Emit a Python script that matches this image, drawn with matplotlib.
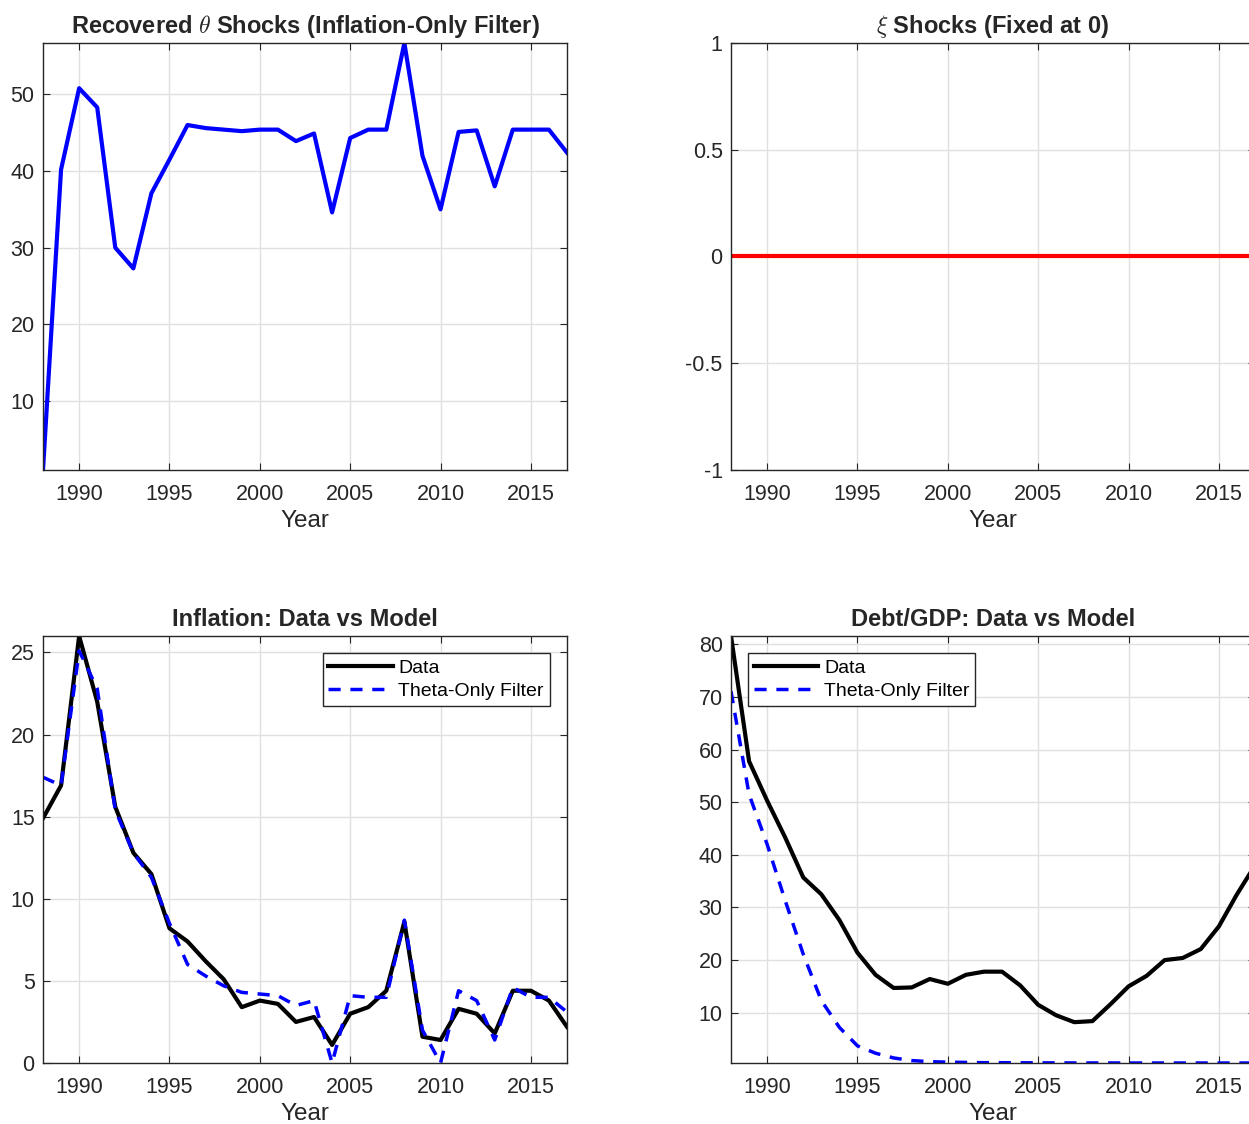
import numpy as np
import matplotlib
matplotlib.use("Agg")
import matplotlib.pyplot as plt

plt.rcParams['font.family'] = ['Liberation Sans', 'DejaVu Sans']
plt.rcParams['mathtext.fontset'] = 'cm'

# Years of the sample
years = np.arange(1988, 2018)

# Recovered theta shocks
theta = [1.0, 40.2, 50.8, 48.3, 30.0, 27.3, 37.1, 41.5, 46.0, 45.6,
         45.4, 45.2, 45.4, 45.4, 43.9, 44.9, 34.6, 44.3, 45.4, 45.4,
         56.7, 42.0, 35.0, 45.1, 45.3, 38.0, 45.4, 45.4, 45.4, 42.4]

# xi shocks (fixed at 0)
xi = [0.0] * 30

# Inflation: data vs model
infl_data = [14.9, 16.9, 26.0, 22.0, 15.6, 12.8, 11.5, 8.2, 7.4, 6.2,
             5.1, 3.4, 3.8, 3.6, 2.5, 2.8, 1.1, 3.0, 3.4, 4.4,
             8.6, 1.6, 1.4, 3.3, 3.0, 1.8, 4.4, 4.4, 3.8, 2.2]
infl_model = [17.4, 16.9, 25.1, 22.8, 15.4, 12.8, 11.3, 8.5, 6.0, 5.3,
              4.7, 4.3, 4.2, 4.1, 3.5, 3.8, 0.0, 4.1, 4.0, 4.0,
              8.7, 2.0, 0.0, 4.4, 3.8, 1.4, 4.6, 4.0, 4.0, 3.1]

# Debt/GDP: data vs model
debt_data = [81.6, 57.8, 50.3, 43.3, 35.7, 32.5, 27.6, 21.4, 17.2, 14.7,
             14.8, 16.4, 15.5, 17.2, 17.8, 17.8, 15.2, 11.5, 9.5, 8.2,
             8.4, 11.6, 15.0, 17.0, 20.0, 20.4, 22.1, 26.4, 32.5, 38.0]
debt_model = [71.1, 51.5, 42.0, 31.3, 21.1, 12.3, 7.2, 3.7, 2.3, 1.4,
              0.9, 0.7, 0.6, 0.55, 0.5, 0.5, 0.48, 0.47, 0.46, 0.45,
              0.45, 0.45, 0.44, 0.44, 0.44, 0.44, 0.44, 0.44, 0.44, 0.44]

W, H = 1249, 1124
fig = plt.figure(figsize=(W / 100, H / 100), dpi=100)

axc = '0.15'
def style(ax):
    ax.set_xlim(years[0], years[-1])
    ax.set_xticks([1990, 1995, 2000, 2005, 2010, 2015])
    ax.grid(True, color='0.88', lw=1)
    ax.set_axisbelow(True)
    ax.tick_params(direction='in', top=True, right=True, length=5,
                   labelsize=15.5, colors=axc)
    ax.tick_params(axis='x', pad=10)
    ax.tick_params(axis='y', pad=6)
    for s in ax.spines.values():
        s.set_color(axc)
        s.set_linewidth(1)
    ax.set_xlabel('Year', fontsize=17.5, color=axc, labelpad=4)

def frac(x0, y0, x1, y1):
    return [x0 / W, 1 - y1 / H, (x1 - x0) / W, (y1 - y0) / H]

ax1 = fig.add_axes(frac(43, 43, 567, 470))
ax2 = fig.add_axes(frac(731, 43, 1255, 470))
ax3 = fig.add_axes(frac(43, 636, 567, 1063))
ax4 = fig.add_axes(frac(731, 636, 1255, 1063))

dash = (0, (3.5, 2.8))
tfont = dict(fontsize=17, fontweight='bold', color=axc)

ax1.plot(years, theta, color='blue', lw=3)
ax1.set_ylim(min(theta), max(theta))
ax1.set_yticks([10, 20, 30, 40, 50])
ax1.set_title(r'Recovered $\theta$ Shocks (Inflation-Only Filter)', pad=7, **tfont)
style(ax1)

ax2.plot(years, xi, color='red', lw=3)
ax2.set_ylim(-1, 1)
ax2.set_yticks([-1, -0.5, 0, 0.5, 1])
ax2.set_yticklabels(['-1', '-0.5', '0', '0.5', '1'])
ax2.set_title(r'$\xi$ Shocks (Fixed at 0)', pad=7, **tfont)
style(ax2)

legkw = dict(fontsize=14, fancybox=False, framealpha=1, edgecolor=axc,
             handlelength=3.3, borderpad=0.3, labelspacing=0.3,
             handletextpad=0.3, borderaxespad=0)

ax3.plot(years, infl_data, color='black', lw=3, label='Data')
ax3.plot(years, infl_model, color='blue', lw=2.5, ls=dash, label='Theta-Only Filter')
ax3.set_ylim(min(infl_data + infl_model), max(infl_data + infl_model))
ax3.set_yticks([0, 5, 10, 15, 20, 25])
ax3.set_title('Inflation: Data vs Model', pad=7, **tfont)
style(ax3)
leg = ax3.legend(loc='upper right', bbox_to_anchor=(0.967, 0.96), **legkw)
leg.get_frame().set_linewidth(1)

ax4.plot(years, debt_data, color='black', lw=3, label='Data')
ax4.plot(years, debt_model, color='blue', lw=2.5, ls=dash, label='Theta-Only Filter')
ax4.set_ylim(min(debt_data + debt_model), max(debt_data + debt_model))
ax4.set_yticks([10, 20, 30, 40, 50, 60, 70, 80])
ax4.set_title('Debt/GDP: Data vs Model', pad=7, **tfont)
style(ax4)
leg = ax4.legend(loc='upper left', bbox_to_anchor=(0.033, 0.96), **legkw)
leg.get_frame().set_linewidth(1)

fig.savefig('out.png', dpi=100)
